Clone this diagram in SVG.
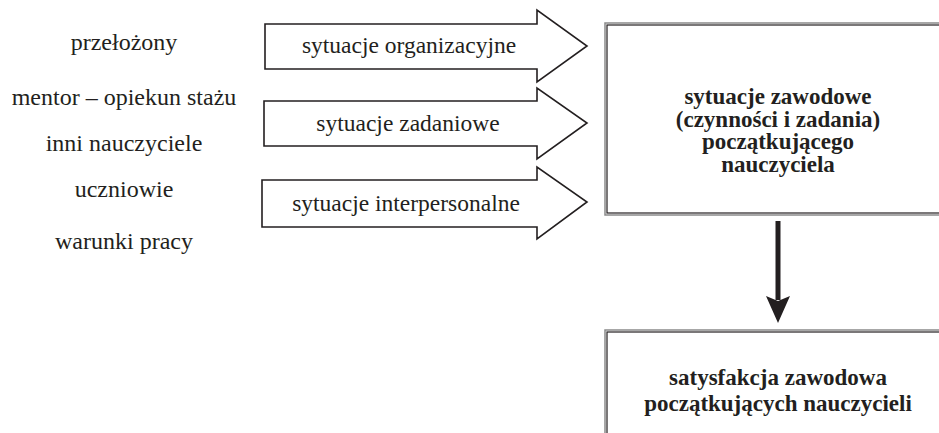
<svg xmlns="http://www.w3.org/2000/svg" width="939" height="433" viewBox="0 0 939 433">
<style>
text{font-family:"Liberation Serif","Times New Roman",serif;fill:#231f20;text-anchor:middle}
.src{font-size:24px}
.lbl{font-size:23.5px}
.bold{font-size:23px;font-weight:bold}
.arrow{fill:#fff;stroke:#231f20;stroke-width:1.6;stroke-linejoin:miter}
.outer{fill:none;stroke:#8a8a8a;stroke-width:1.5}
.inner{fill:#fff;stroke:#231f20;stroke-width:1.2}
</style>
<g id="sources">
<text class="src" x="124" y="50">przełożony</text>
<text class="src" x="124" y="105">mentor – opiekun stażu</text>
<text class="src" x="124" y="151">inni nauczyciele</text>
<text class="src" x="124" y="197">uczniowie</text>
<text class="src" x="124" y="249">warunki pracy</text>
</g>
<g id="arrow-organizacyjne">
<polygon class="arrow" points="265,24 537,24 537,10 587,46 537,82 537,69 265,69"/>
<text class="lbl" x="409" y="53">sytuacje organizacyjne</text>
</g>
<g id="arrow-zadaniowe">
<polygon class="arrow" points="264,101 537,101 537,88 587,123 537,159 537,146 264,146"/>
<text class="lbl" x="408" y="131">sytuacje zadaniowe</text>
</g>
<g id="arrow-interpersonalne">
<polygon class="arrow" points="262,180 537,180 537,167 587,202 537,239 537,227 262,227"/>
<text class="lbl" x="406" y="211">sytuacje interpersonalne</text>
</g>
<g id="box-sytuacje">
<rect class="outer" x="605" y="23" width="360" height="192"/>
<rect class="inner" x="607" y="25" width="360" height="188"/>
<text class="bold" x="778" y="104">sytuacje zawodowe</text>
<text class="bold" x="778" y="127">(czynności i zadania)</text>
<text class="bold" x="778" y="149">początkującego</text>
<text class="bold" x="778" y="172">nauczyciela</text>
</g>
<g id="box-satysfakcja">
<rect class="outer" x="605" y="330" width="360" height="120"/>
<rect class="inner" x="607" y="332" width="360" height="120"/>
<text class="bold" x="778" y="385">satysfakcja zawodowa</text>
<text class="bold" x="778" y="411">początkujących nauczycieli</text>
</g>
<g id="connectors">
<line x1="778" y1="221" x2="778" y2="300" stroke="#231f20" stroke-width="5"/>
<polygon points="766,296 778,301 790,296 778,323" fill="#231f20"/>
</g>
</svg>
